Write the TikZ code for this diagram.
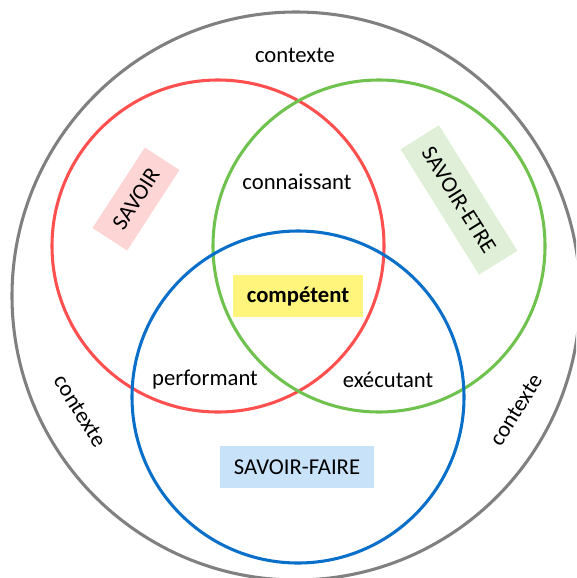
\documentclass[tikz,border=0pt]{standalone}
\usepackage{fontspec}
\setmainfont{Carlito}
\usepackage{xcolor}
\usetikzlibrary{positioning}

\definecolor{savoirred}{HTML}{FF5050}
\definecolor{etregreen}{HTML}{70C24E}
\definecolor{fairblue}{HTML}{0A6FC8}
\definecolor{ctxgray}{HTML}{808080}
\definecolor{pinkbox}{HTML}{FDD5D5}
\definecolor{greenbox}{HTML}{E0F0D8}
\definecolor{yellowbox}{HTML}{FFF57C}
\definecolor{bluebox}{HTML}{C8E2FA}

\begin{document}
\begin{tikzpicture}[
		x=0.75pt,y=-0.75pt,
		ring/.style={line width=2.3pt},
		word/.style={font=\fontsize{17}{20}\selectfont,inner sep=0pt},
		tag/.style={word,minimum height=31pt}
	]
		\useasboundingbox (0,0) rectangle (576,578);
		\clip (0,0) rectangle (576,578);

		% Context circle and the three competence circles.
		\draw[ring,ctxgray] (296,296) circle (284);
		\foreach \cx/\cy/\col in {
			218/246/savoirred,
			379/246/etregreen,
			298/397/fairblue}
			\draw[ring,\col] (\cx,\cy) circle (166);

		% Labels of the circles, on coloured boxes.
		\node[tag,fill=pinkbox,minimum width=72pt,rotate=57] (savoir) at (136,199) {SAVOIR};
		\node[tag,fill=greenbox,minimum width=111pt,minimum height=34pt,rotate=-58] (etre) at (459,200) {SAVOIR-ETRE};
		\node[tag,fill=bluebox,minimum width=116pt] (faire) at (297,467) {SAVOIR-FAIRE};

		% Intersections.
		\node[word] (conn) at (297,182) {connaissant};
		\node[word] (perf) at (205,380) {performant};
		\node[word] (exec) at (388,380) {exécutant};
		\node[tag,fill=yellowbox,minimum width=97pt,font=\fontsize{17}{20}\selectfont\bfseries] (comp) at (298,296) {compétent};

		% Context around the circles.
		\node[word] (ctxtop) at (295,55) {contexte};
		\node[word,rotate=-58] (ctxleft) at (80,411) {contexte};
		\node[word,rotate=58] (ctxright) at (516,410) {contexte};
	\end{tikzpicture}
\end{document}
